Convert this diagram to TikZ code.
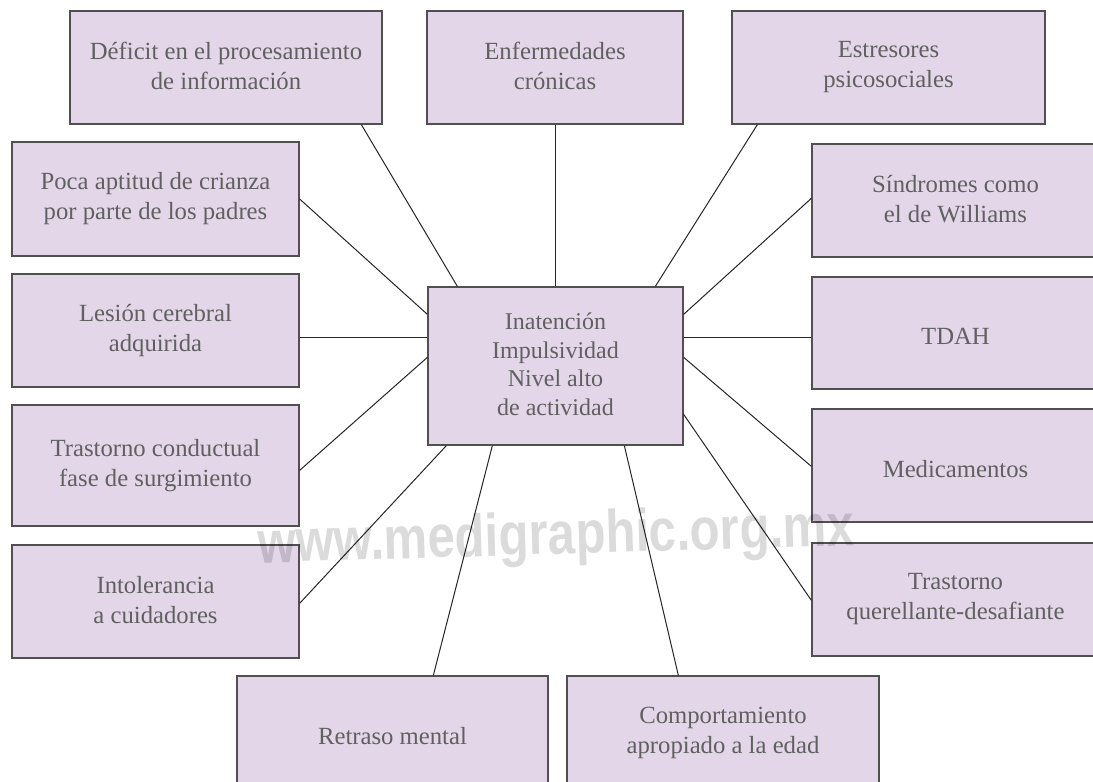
\documentclass[tikz,border=0pt]{standalone}
\usepackage{fontspec}
\setmainfont{Liberation Serif}
\newfontfamily\wmfont{Liberation Sans}
\usetikzlibrary{calc}
\definecolor{boxfill}{HTML}{E3D6E9}
\definecolor{boxline}{HTML}{505050}
\definecolor{txt}{HTML}{606060}
\newcommand{\boxstrut}{\rule[-3.5pt]{0pt}{30pt}}
\begin{document}
\begin{tikzpicture}[x=1pt,y=-1pt,
  box/.style={draw=boxline, line width=1.3pt, fill=boxfill, text=txt, align=center,
    inner sep=0pt, font=\fontsize{24.7}{30}\selectfont,
    execute at begin node=\boxstrut, execute at end node=\boxstrut},
  link/.style={draw=black!85, line width=1pt}]
\clip (0,0) rectangle (1093,782);
\fill[white] (0,0) rectangle (1093,782);
% boxes
\node[box, minimum width=312pt, minimum height=113pt] (defic) at (226,67.5) {Déficit en el procesamiento\\de información};
\node[box, minimum width=256pt, minimum height=113pt] (enf) at (555,67.5) {Enfermedades\\crónicas};
\node[box, minimum width=313pt, minimum height=113pt] (estr) at (888.5,67.5) {Estresores\\psicosociales};
\node[box, minimum width=287pt, minimum height=114pt] (poca) at (155.5,199) {Poca aptitud de crianza\\por parte de los padres};
\node[box, minimum width=287pt, minimum height=113pt] (lesion) at (155.5,330.5) {Lesión cerebral\\adquirida};
\node[box, minimum width=287pt, minimum height=121pt] (trast) at (155.5,465.5) {Trastorno conductual\\fase de surgimiento};
\node[box, minimum width=287pt, minimum height=113pt] (intol) at (155.5,601.5) {Intolerancia\\a cuidadores};
\node[box, minimum width=287pt, minimum height=113pt] (sind) at (955.5,200.5) {Síndromes como\\el de Williams};
\node[box, minimum width=287pt, minimum height=112pt] (tdah) at (955.5,333) {TDAH};
\node[box, minimum width=287pt, minimum height=113pt] (medic) at (955.5,465.5) {Medicamentos};
\node[box, minimum width=287pt, minimum height=113pt] (quer) at (955.5,599.5) {Trastorno\\querellante-desafiante};
\node[box, minimum width=311pt, minimum height=113pt] (retraso) at (392.5,732.5) {Retraso mental};
\node[box, minimum width=312pt, minimum height=113pt] (comport) at (723,732.5) {Comportamiento\\apropiado a la edad};
\node[box, minimum width=255pt, minimum height=158pt, font=\fontsize{24}{28.5}\selectfont] (center) at (555.5,366) {Inatención\\Impulsividad\\Nivel alto\\de actividad};
% connectors
\coordinate (cl2) at ([yshift=-51pt]center.north west);
\coordinate (cr2) at ([yshift=-51pt]center.north east);
\draw[link] ([xshift=30pt]center.north west) -- ([xshift=292pt]defic.south west);
\draw[link] (enf.south) -- (enf.south |- center.north);
\draw[link] ([xshift=228pt]center.north west) -- ([xshift=26pt]estr.south west);
\draw[link] ([yshift=-28pt]center.north west) -- (poca.east);
\draw[link] (cl2) -- (lesion.east |- cl2);
\draw[link] ([yshift=-71pt]center.north west) -- ([yshift=-66pt]trast.north east);
\draw[link] ([xshift=19pt]center.south west) -- ([yshift=-59pt]intol.north east);
\draw[link] ([yshift=-28pt]center.north east) -- ([yshift=-55pt]sind.north west);
\draw[link] (cr2) -- (tdah.west |- cr2);
\draw[link] ([yshift=-71pt]center.north east) -- ([yshift=-58pt]medic.north west);
\draw[link] ([yshift=-128pt]center.north east) -- ([yshift=-58pt]quer.north west);
\draw[link] ([xshift=65pt]center.south west) -- ([xshift=197pt]retraso.north west);
\draw[link] ([xshift=197pt]center.south west) -- ([xshift=112pt]comport.north west);
% watermark
\node[anchor=base west, inner sep=0pt, text=black, text opacity=0.14, rotate=1.7,
  font=\wmfont\bfseries\fontsize{60}{60}\selectfont, xscale=0.82] (wmark) at (258,563) {www.medigraphic.org.mx};
\end{tikzpicture}
\end{document}
